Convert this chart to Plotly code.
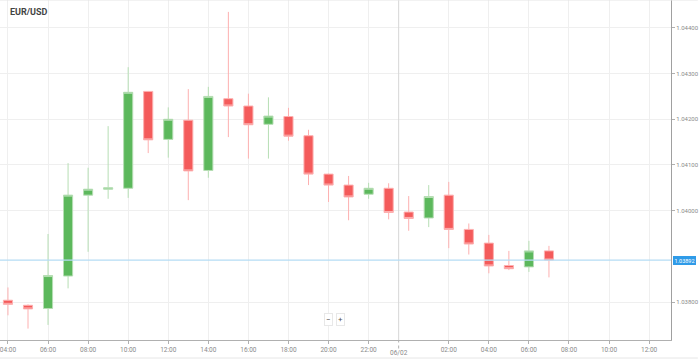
import plotly.graph_objects as go
import pandas as pd

# Hourly EUR/USD candles, 05/02 04:00 -> 06/02 07:00
times = pd.date_range("2025-02-05 04:00", periods=28, freq="h")
opens = [1.03804, 1.03793, 1.03786, 1.03857, 1.04034, 1.04047, 1.04049, 1.04261,
         1.04156, 1.04198, 1.04088, 1.04245, 1.04229, 1.04189, 1.04206, 1.04164,
         1.04080, 1.04056, 1.04036, 1.04049, 1.03997, 1.03984, 1.04034, 1.03959,
         1.03929, 1.03880, 1.03877, 1.03912]
highs = [1.03832, 1.03795, 1.03949, 1.04104, 1.04094, 1.04185, 1.04314, 1.04262,
         1.04226, 1.04266, 1.04271, 1.04435, 1.04256, 1.04248, 1.04225, 1.04177,
         1.04081, 1.04076, 1.04061, 1.04060, 1.04032, 1.04056, 1.04063, 1.03972,
         1.03947, 1.03912, 1.03934, 1.03923]
lows = [1.03771, 1.03742, 1.03750, 1.03830, 1.03910, 1.04026, 1.04028, 1.04126,
        1.04116, 1.04023, 1.04072, 1.04161, 1.04114, 1.04114, 1.04153, 1.04056,
        1.04019, 1.03979, 1.04026, 1.03981, 1.03956, 1.03964, 1.03918, 1.03904,
        1.03863, 1.03870, 1.03866, 1.03854]
closes = [1.03795, 1.03785, 1.03858, 1.04034, 1.04047, 1.04050, 1.04259, 1.04155,
          1.04200, 1.04087, 1.04250, 1.04229, 1.04188, 1.04207, 1.04163, 1.04080,
          1.04056, 1.04030, 1.04049, 1.03996, 1.03983, 1.04031, 1.03959, 1.03927,
          1.03879, 1.03873, 1.03912, 1.03892]

x_tick_vals = ["2025-02-05 04:00", "2025-02-05 06:00", "2025-02-05 08:00", "2025-02-05 10:00",
               "2025-02-05 12:00", "2025-02-05 14:00", "2025-02-05 16:00", "2025-02-05 18:00",
               "2025-02-05 20:00", "2025-02-05 22:00", "2025-02-06 02:00", "2025-02-06 04:00",
               "2025-02-06 06:00", "2025-02-06 08:00", "2025-02-06 10:00", "2025-02-06 12:00"]
x_tick_text = ["04:00", "06:00", "08:00", "10:00", "12:00", "14:00", "16:00", "18:00",
               "20:00", "22:00", "02:00", "04:00", "06:00", "08:00", "10:00", "12:00"]
day_sep = "2025-02-05 23:30"
day_label = "06/02"
y_tick_vals = [1.038, 1.040, 1.041, 1.042, 1.043, 1.044]
y_tick_text = ["1.03800", "1.04000", "1.04100", "1.04200", "1.04300", "1.04400"]
title = "EUR/USD"

GREEN = "#5cb85c"
RED = "#f45b5b"
FONT = "Roboto"

fig = go.Figure()
fig.add_trace(go.Candlestick(
    x=times, open=opens, high=highs, low=lows, close=closes,
    increasing=dict(fillcolor=GREEN, line=dict(color="#b6deb4", width=1)),
    decreasing=dict(fillcolor=RED, line=dict(color="#fdb0b0", width=1)),
    whiskerwidth=0, showlegend=False, hoverinfo="skip",
))

last = closes[-1]

fig.update_layout(
    width=699, height=360,
    margin=dict(l=0, r=24, t=0, b=20),
    paper_bgcolor="white", plot_bgcolor="white",
    font=dict(family=FONT, size=6.5, color="#8a8a8a"),
    boxgap=0.35,
    xaxis=dict(
        type="date",
        range=["2025-02-05 03:36:10", "2025-02-06 13:05:30"],
        rangeslider=dict(visible=False),
        tickvals=x_tick_vals, ticktext=x_tick_text,
        ticklabeloverflow="allow",
        showgrid=True, gridcolor="#efefef", gridwidth=1,
        showline=True, linecolor="#b0b0b0", linewidth=1,
        ticks="outside", ticklen=3, tickcolor="#b0b0b0",
        tickfont=dict(size=6.5, color="#8a8a8a"),
        zeroline=False, fixedrange=True,
    ),
    yaxis=dict(
        side="right",
        range=[1.03717, 1.04461],
        tickvals=y_tick_vals, ticktext=y_tick_text,
        ticklabeloverflow="allow",
        showgrid=True, gridcolor="#efefef", gridwidth=1,
        showline=True, linecolor="#a0a0a0", linewidth=1,
        ticks="outside", ticklen=3, tickcolor="#b0b0b0",
        tickfont=dict(size=6, color="#8a8a8a"),
        zeroline=False, fixedrange=True,
    ),
    shapes=[
        dict(type="line", xref="x", yref="paper", x0=day_sep, x1=day_sep, y0=0, y1=1,
             line=dict(color="#d6d6d6", width=1)),
        dict(type="line", xref="x", yref="paper", x0=day_sep, x1=day_sep, y0=-0.025, y1=0,
             line=dict(color="#b0b0b0", width=1, dash="dot")),
        dict(type="line", xref="paper", yref="y", x0=0, x1=1, y0=last, y1=last,
             line=dict(color="#b5dcf4", width=1.2), layer="above"),
        dict(type="line", xref="paper", yref="paper", x0=0, x1=1.04, y0=-0.053, y1=-0.053,
             line=dict(color="#e6e6e6", width=1)),
        dict(type="line", xref="paper", yref="paper", x0=0, x1=1.04, y0=1, y1=1,
             line=dict(color="#e6e6e6", width=1)),
    ],
    annotations=[
        dict(text=f"<b>{title}</b>", xref="paper", yref="paper", x=0.012, y=0.966,
             xanchor="left", yanchor="middle", showarrow=False,
             font=dict(family=FONT, size=9, color="#444444")),
        dict(text=day_label, xref="x", yref="paper", x=day_sep, y=-0.038,
             xanchor="center", yanchor="middle", showarrow=False,
             font=dict(family=FONT, size=6.5, color="#8a8a8a")),
        dict(text=f"{last:.5f}", xref="paper", yref="y", x=1, y=last, xshift=2,
             xanchor="left", yanchor="middle", showarrow=False,
             bgcolor="#2f9be8", bordercolor="#2f9be8", borderpad=0.5,
             font=dict(family=FONT, size=5.5, color="white")),
        dict(text="−", xref="paper", yref="paper", x=0.49, y=0.059,
             xanchor="center", yanchor="middle", showarrow=False,
             bgcolor="white", bordercolor="#e8e8e8", borderwidth=1, borderpad=1,
             font=dict(family=FONT, size=8, color="#555555")),
        dict(text="+", xref="paper", yref="paper", x=0.507, y=0.059,
             xanchor="center", yanchor="middle", showarrow=False,
             bgcolor="white", bordercolor="#e8e8e8", borderwidth=1, borderpad=1,
             font=dict(family=FONT, size=8, color="#555555")),
    ],
)

fig.write_html("out.html", config={"displayModeBar": False},
               post_script="document.body.style.margin='0';document.body.style.overflow='hidden';")
